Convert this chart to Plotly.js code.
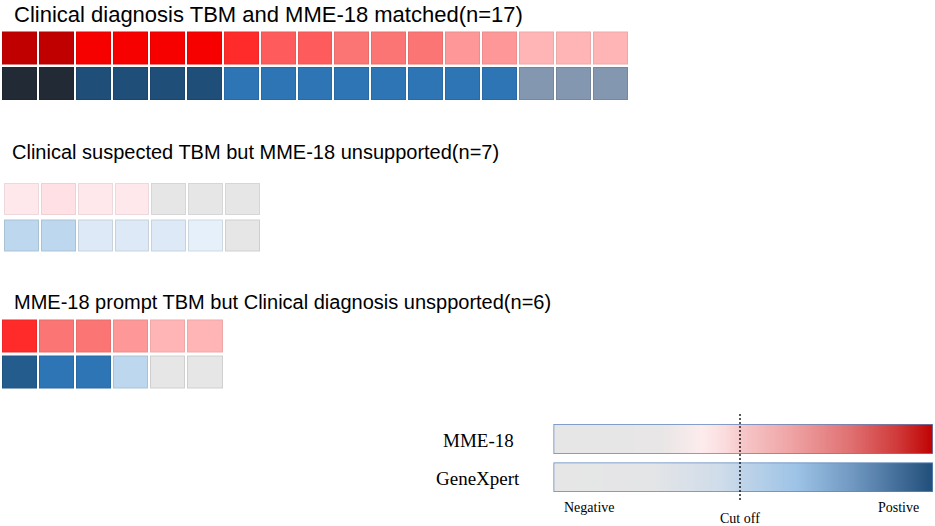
<!DOCTYPE html>
<html>
<head>
<meta charset="utf-8">
<script src="https://cdn.plot.ly/plotly-3.0.1.min.js"></script>
<style>html,body{margin:0;padding:0;background:#fff;}#chart{width:935px;height:526px;}</style>
</head>
<body>
<div id="chart"></div>
<script>
// ---------- DATA ----------
const rowNames = ["GeneXpert", "MME-18"];

const groupTitles = [
  "Clinical diagnosis TBM and MME-18 matched(n=17)",
  "Clinical suspected TBM but MME-18 unsupported(n=7)",
  "MME-18 prompt TBM but Clinical diagnosis unspported(n=6)"
];

const samplesG1 = ["S1","S2","S3","S4","S5","S6","S7","S8","S9","S10","S11","S12","S13","S14","S15","S16","S17"];
const samplesG2 = ["S18","S19","S20","S21","S22","S23","S24"];
const samplesG3 = ["S25","S26","S27","S28","S29","S30"];

// colour levels (index into the palettes below)
const mmeG1 = [9,9,8,8,8,8,7,6,6,5,5,5,4,4,3,3,3];
const gxG1  = [8,8,7,7,7,7,5,5,5,5,5,5,5,5,4,4,4];
const mmeG2 = [1,2,1,1,0,0,0];
const gxG2  = [3,3,2,2,2,1,0];
const mmeG3 = [7,5,5,4,3,3];
const gxG3  = [6,5,5,3,0,0];

const redPalette  = ["#e6e6e6","#ffe8eb","#ffe1e5","#ffb5b5","#fe9898","#fc7575","#fe5c5c","#ff2a2a","#f60000","#c00000"];
const bluePalette = ["#e6e6e6","#e5f0fa","#dde9f6","#bdd7ee","#8497b0","#2e75b6","#255c8e","#1f4e79","#222a35"];

const legendLabels = ["MME-18", "GeneXpert"];
const legendTicks = ["Negative", "Cut off", "Postive"];
const mmeGradientStops = [[0,"#e6e6e6"],[0.28,"#e8e6e6"],[0.39,"#fdeced"],[0.45,"#fbdcdd"],[0.5,"#f6c6c8"],[0.62,"#efa5a6"],[0.78,"#e07172"],[0.9,"#d13c3c"],[1,"#c00000"]];
const gxGradientStops  = [[0,"#e6e6e6"],[0.26,"#e4e5e7"],[0.44,"#cfdcea"],[0.5,"#bfd4e9"],[0.64,"#9dc3e6"],[0.79,"#6f97c0"],[0.9,"#46709c"],[1,"#1f4e79"]];

// ---------- HELPERS ----------
const W = 935, H = 526;
const px = v => v / W;
const py = v => 1 - v / H;
function discreteScale(pal){
  const n = pal.length, cs = [];
  pal.forEach((c,i)=>{ cs.push([i/n, c]); cs.push([(i+1)/n, c]); });
  return cs;
}
function darken(hex, f){
  const n = parseInt(hex.slice(1), 16);
  const r = Math.round(((n >> 16) & 255) * f), g = Math.round(((n >> 8) & 255) * f), b = Math.round((n & 255) * f);
  return "rgb(" + r + "," + g + "," + b + ")";
}
const redEdge = redPalette.map(c => darken(c, 0.93));
const blueEdge = bluePalette.map(c => darken(c, 0.9));

const panels = [
  {samples: samplesG1, mme: mmeG1, gx: gxG1, x0: 1, x1: 629, y0: 30.5, y1: 101.5, ygap: 3, title: groupTitles[0], tx: 12, ty: 14, tsize: 22},
  {samples: samplesG2, mme: mmeG2, gx: gxG2, x0: 3, x1: 261, y0: 181, y1: 254, ygap: 5, title: groupTitles[1], tx: 10, ty: 152, tsize: 20},
  {samples: samplesG3, mme: mmeG3, gx: gxG3, x0: 1, x1: 223.5, y0: 318.5, y1: 390.5, ygap: 3, title: groupTitles[2], tx: 12, ty: 302, tsize: 20}
];

const data = [];
const layout = {
  width: W, height: H,
  margin: {l:0, r:0, t:0, b:0},
  paper_bgcolor: "#ffffff",
  plot_bgcolor: "rgba(0,0,0,0)",
  showlegend: false,
  annotations: [],
  shapes: []
};

const titleFont = {family: "Liberation Sans, Arial, sans-serif", size: 20, color: "#000000"};
const rowPos = name => rowNames.indexOf(name);

panels.forEach((p, i) => {
  const k = i + 1;
  const xa = k === 1 ? "x" : "x" + k;
  const ya = k === 1 ? "y" : "y" + k;
  const xk = k === 1 ? "xaxis" : "xaxis" + k;
  const yk = k === 1 ? "yaxis" : "yaxis" + k;
  const xs = p.samples.map((s, j) => j);
  layout[xk] = {domain: [px(p.x0), px(p.x1)], type: "linear",
    range: [-0.5, p.samples.length - 0.5], visible: false, fixedrange: true, anchor: ya};
  layout[yk] = {domain: [py(p.y1), py(p.y0)], type: "linear",
    range: [-0.5, 1.5], visible: false, fixedrange: true, anchor: xa};
  const rows = [["MME-18", p.mme, redPalette, redEdge], ["GeneXpert", p.gx, bluePalette, blueEdge]];
  rows.forEach(([name, vals, pal, edge]) => {
    // thin darker outline layer
    data.push({type: "heatmap", x: xs, y: [rowPos(name)], z: [vals], text: [p.samples],
      colorscale: discreteScale(edge), zmin: -0.5, zmax: pal.length - 0.5,
      showscale: false, xgap: 2, ygap: p.ygap, xaxis: xa, yaxis: ya, hoverinfo: "skip"});
    // cell fill
    data.push({type: "heatmap", x: xs, y: [rowPos(name)], z: [vals], text: [p.samples],
      colorscale: discreteScale(pal), zmin: -0.5, zmax: pal.length - 0.5,
      showscale: false, xgap: 4, ygap: p.ygap + 2, xaxis: xa, yaxis: ya, hoverinfo: "skip"});
  });
  layout.annotations.push({text: p.title, xref: "paper", yref: "paper", x: px(p.tx), y: py(p.ty),
    xanchor: "left", yanchor: "middle", showarrow: false,
    font: Object.assign({}, titleFont, {size: p.tsize})});
});

// ---------- LEGEND GRADIENT BARS ----------
const barX0 = 553.5, barX1 = 933;
layout.xaxis4 = {domain: [px(barX0), px(barX1)], range: [0, 1], visible: false, fixedrange: true, anchor: "y4"};
layout.yaxis4 = {domain: [py(454), py(424)], range: [0, 1], visible: false, fixedrange: true, anchor: "x4"};
layout.yaxis5 = {domain: [py(492), py(462.5)], range: [0, 1], visible: false, fixedrange: true, anchor: "x4"};

[[mmeGradientStops, "y4"], [gxGradientStops, "y5"]].forEach(([cs, ya]) => {
  data.push({type: "heatmap", x: [0, 1], y: [0, 1], z: [[0, 1], [0, 1]], zmin: 0, zmax: 1,
    colorscale: cs, zsmooth: "best", showscale: false, xaxis: "x4", yaxis: ya, hoverinfo: "skip"});
  layout.shapes.push({type: "rect", xref: "x4", yref: ya, x0: 0, x1: 1, y0: 0, y1: 1,
    line: {color: "#5f87bd", width: 1.5}, fillcolor: "rgba(0,0,0,0)", layer: "above"});
});

// cut-off line
layout.shapes.push({type: "line", xref: "paper", yref: "paper", x0: px(740), x1: px(740), y0: py(414), y1: py(500),
  line: {color: "#000000", width: 1.3, dash: "2px,2px"}});

const serif = {family: "Liberation Serif, Times New Roman, serif", color: "#000000"};
layout.annotations.push({text: legendLabels[0], xref: "paper", yref: "paper", x: px(478), y: py(440),
  xanchor: "center", yanchor: "middle", showarrow: false, font: Object.assign({size: 19}, serif)});
layout.annotations.push({text: legendLabels[1], xref: "paper", yref: "paper", x: px(478), y: py(478),
  xanchor: "center", yanchor: "middle", showarrow: false, font: Object.assign({size: 19}, serif)});
layout.annotations.push({text: legendTicks[0], xref: "paper", yref: "paper", x: px(562), y: py(507),
  xanchor: "left", yanchor: "middle", showarrow: false, font: Object.assign({size: 14}, serif)});
layout.annotations.push({text: legendTicks[1], xref: "paper", yref: "paper", x: px(740), y: py(518),
  xanchor: "center", yanchor: "middle", showarrow: false, font: Object.assign({size: 14}, serif)});
layout.annotations.push({text: legendTicks[2], xref: "paper", yref: "paper", x: px(921), y: py(507),
  xanchor: "right", yanchor: "middle", showarrow: false, font: Object.assign({size: 14}, serif)});

Plotly.newPlot("chart", data, layout, {staticPlot: true, displayModeBar: false});
</script>
</body>
</html>
